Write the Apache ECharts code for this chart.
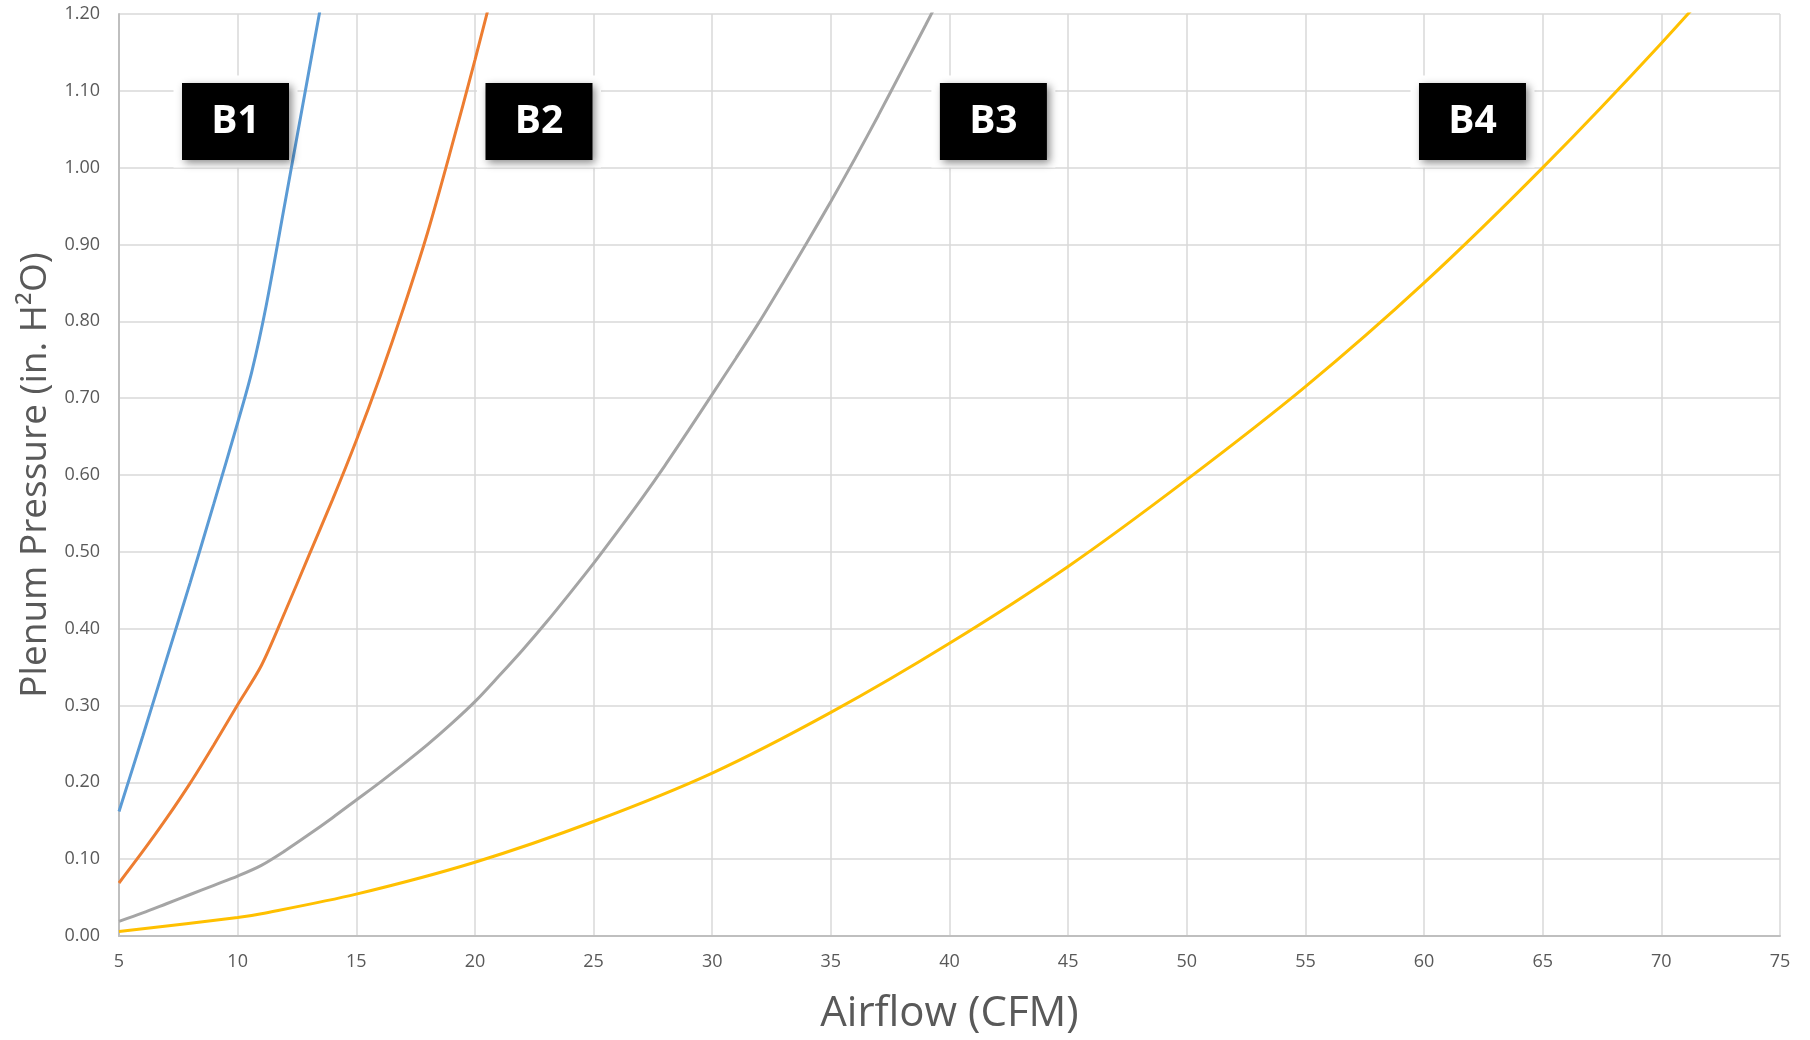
<!DOCTYPE html>
<html>
<head>
<meta charset="utf-8">
<script src="https://cdn.jsdelivr.net/npm/echarts@6/dist/echarts.min.js"></script>
<style>
  html, body { margin: 0; padding: 0; background: #ffffff; }
  #chart { width: 1810px; height: 1040px; }
</style>
</head>
<body>
<div id="chart"></div>
<script>
// ---- Data ----
const b1Airflow  = [5, 6, 7, 8, 9, 10, 10.6, 11.2, 12, 12.5, 13, 13.5];
const b1Pressure = [0.162, 0.26, 0.36, 0.46, 0.563, 0.668, 0.735, 0.82, 0.955, 1.04, 1.125, 1.21];

const b2Airflow  = [5, 6, 7, 8, 9, 10, 11, 12, 13, 14, 15, 16, 17, 18, 19, 20, 21];
const b2Pressure = [0.069, 0.11, 0.153, 0.199, 0.249, 0.301, 0.352, 0.422, 0.495, 0.568, 0.645, 0.728, 0.818, 0.915, 1.025, 1.14, 1.26];

const b3Airflow  = [5, 6, 7, 8, 9, 10, 11, 12, 13, 14, 15, 16, 17, 18, 19, 20, 21, 22, 23, 24, 25, 26, 27, 28, 29, 30, 31, 32, 33, 34, 35, 36, 37, 38, 39, 40];
const b3Pressure = [0.019, 0.030, 0.042, 0.054, 0.066, 0.078, 0.092, 0.111, 0.132, 0.154, 0.177, 0.200, 0.224, 0.249, 0.276, 0.305, 0.338, 0.372, 0.408, 0.446, 0.485, 0.526, 0.568, 0.612, 0.658, 0.705, 0.752, 0.80, 0.851, 0.903, 0.956, 1.011, 1.068, 1.127, 1.186, 1.246];

const b4Airflow  = [5, 10, 11, 15, 20, 25, 30, 35, 40, 45, 50, 55, 60, 65, 70, 75];
const b4Pressure = [0.006, 0.024, 0.029, 0.0545, 0.096, 0.149, 0.212, 0.291, 0.381, 0.481, 0.594, 0.715, 0.85, 1.0, 1.162, 1.335];

const seriesNames  = ['B1', 'B2', 'B3', 'B4'];
const labelAirflow = [9.91, 22.7, 41.85, 62.04];
const labelPressure = [1.06, 1.06, 1.06, 1.06];

const xAxisTitle = 'Airflow (CFM)';
const yAxisTitle = 'Plenum Pressure (in. H²O)';

// ---- Build ----
const zip = (xs, ys) => xs.map((x, i) => [x, ys[i]]);
const curves = [
  zip(b1Airflow, b1Pressure),
  zip(b2Airflow, b2Pressure),
  zip(b3Airflow, b3Pressure),
  zip(b4Airflow, b4Pressure)
];
const colors = ['#5B9BD5', '#ED7D31', '#A5A5A5', '#FFC000'];
const FONT = '"Open Sans", "Noto Sans", sans-serif';

const lineSeries = curves.map((d, i) => ({
  name: seriesNames[i],
  type: 'line',
  data: d,
  smooth: 0.3,
  showSymbol: false,
  clip: true,
  z: 3,
  lineStyle: { color: colors[i], width: 3 },
  itemStyle: { color: colors[i] }
}));

const labelData = seriesNames.map((n, i) => ({ name: n, value: [labelAirflow[i], labelPressure[i]] }));

const chart = echarts.init(document.getElementById('chart'), null, { renderer: 'canvas' });
chart.setOption({
  backgroundColor: '#ffffff',
  animation: false,
  grid: { left: 119, right: 30, top: 14, bottom: 102, containLabel: false },
  xAxis: {
    type: 'value',
    min: 5, max: 75, interval: 5,
    name: xAxisTitle,
    nameLocation: 'middle',
    nameGap: 57,
    nameTextStyle: { fontFamily: FONT, fontSize: 42, color: '#595959' },
    axisLine: { show: true, lineStyle: { color: '#BFBFBF', width: 2 } },
    axisTick: { show: false },
    axisLabel: { fontFamily: FONT, fontSize: 18, color: '#595959', margin: 17 },
    splitLine: { show: true, lineStyle: { color: '#D9D9D9', width: 1.5 } }
  },
  yAxis: {
    type: 'value',
    min: 0, max: 1.2, interval: 0.1,
    name: yAxisTitle,
    nameLocation: 'middle',
    nameGap: 64,
    nameRotate: 90,
    nameTextStyle: { fontFamily: FONT, fontSize: 37, color: '#595959' },
    axisLine: { show: true, lineStyle: { color: '#BFBFBF', width: 2 } },
    axisTick: { show: false },
    axisLabel: { fontFamily: FONT, fontSize: 18, color: '#595959', margin: 19,
      formatter: v => v.toFixed(2) },
    splitLine: { show: true, lineStyle: { color: '#D9D9D9', width: 1.5 } }
  },
  series: [
    {
      name: 'labelHalo',
      type: 'scatter',
      data: labelData,
      symbol: 'rect',
      symbolSize: [124, 92],
      z: 1,
      silent: true,
      itemStyle: { color: '#ffffff', opacity: 1 }
    },
    ...lineSeries,
    {
      name: 'labels',
      type: 'scatter',
      data: labelData,
      symbol: 'rect',
      symbolSize: [107, 77],
      z: 4,
      silent: true,
      itemStyle: {
        color: '#000000',
        opacity: 1,
        shadowBlur: 8,
        shadowColor: 'rgba(0,0,0,0.45)',
        shadowOffsetX: 3,
        shadowOffsetY: 3
      },
      label: {
        show: true,
        position: 'inside',
        formatter: p => p.name,
        fontFamily: FONT,
        fontWeight: 'bold',
        fontSize: 39,
        color: '#ffffff'
      }
    }
  ]
});
</script>
</body>
</html>
